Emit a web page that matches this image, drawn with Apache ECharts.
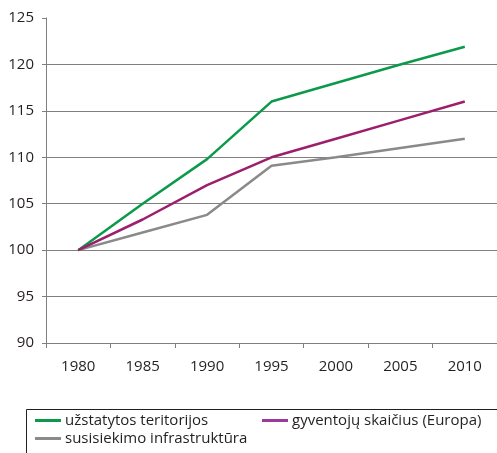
<!DOCTYPE html>
<html><head><meta charset="utf-8">
<script src="https://cdn.jsdelivr.net/npm/echarts@6/dist/echarts.min.js"></script>
<style>html,body{margin:0;padding:0;background:#fff}#c{width:497px;height:453px}</style>
</head><body><div id="c"></div>
<script>
const years = ['1980','1985','1990','1995','2000','2005','2010'];
const builtUp = [100, 105, 109.8, 116, 118, 120, 121.9];
const population = [100, 103.3, 107, 110, 112, 114, 116];
const transport = [100, 101.9, 103.8, 109.1, 110, 111, 112];
const seriesNames = ['užstatytos teritorijos', 'gyventojų skaičius (Europa)', 'susisiekimo infrastruktūra'];
const colors = ['#0a9a4a', '#9c1f6e', '#8a8a8a'];
const legendColors = ['#0a9a4a', '#9a3a9a', '#8a8a8a'];

const font = '"Open Sans", sans-serif';
const chart = echarts.init(document.getElementById('c'));
const mkLegend = (i, left, top) => ({
  data: [{name: seriesNames[i], itemStyle: {color: legendColors[i]}}],
  left, top, padding: 0, orient: 'horizontal', icon: 'rect', itemWidth: 26, itemHeight: 3, itemGap: 4,
  textStyle: {fontFamily: font, fontSize: 15, color: '#231f20', padding: [0,0,0,-1]},
  selectedMode: false
});
chart.setOption({
  animation: false,
  grid: {left: 46, top: 18, width: 452, height: 325, containLabel: false},
  xAxis: {
    type: 'category', data: years, boundaryGap: true,
    axisLine: {lineStyle: {color: '#7f7f7f', width: 1}},
    axisTick: {show: true, length: 5, lineStyle: {color: '#7f7f7f'}},
    axisLabel: {fontFamily: font, fontSize: 15, color: '#231f20', margin: 16}
  },
  yAxis: {
    type: 'value', min: 90, max: 125, interval: 5,
    axisLine: {show: true, lineStyle: {color: '#7f7f7f', width: 1}},
    axisTick: {show: true, length: 4, lineStyle: {color: '#7f7f7f'}},
    axisLabel: {fontFamily: font, fontSize: 15, color: '#231f20', margin: 12},
    splitLine: {show: true, showMinLine: false, showMaxLine: false, lineStyle: {color: '#7f7f7f', width: 1}}
  },
  legend: [mkLegend(0, 35, 413), mkLegend(1, 262, 413), mkLegend(2, 35, 431)],
  graphic: [{type: 'rect', shape: {x: 26.5, y: 409.5, width: 500, height: 80}, style: {fill: 'none', stroke: '#231f20', lineWidth: 1}, silent: true}],
  series: [
    {name: seriesNames[0], type: 'line', data: builtUp, symbol: 'none', lineStyle: {color: colors[0], width: 2.5}, itemStyle: {color: colors[0]}},
    {name: seriesNames[1], type: 'line', data: population, symbol: 'none', lineStyle: {color: colors[1], width: 2.5}, itemStyle: {color: colors[1]}},
    {name: seriesNames[2], type: 'line', data: transport, symbol: 'none', lineStyle: {color: colors[2], width: 2.5}, itemStyle: {color: colors[2]}, z: 1}
  ]
});
</script></body></html>
